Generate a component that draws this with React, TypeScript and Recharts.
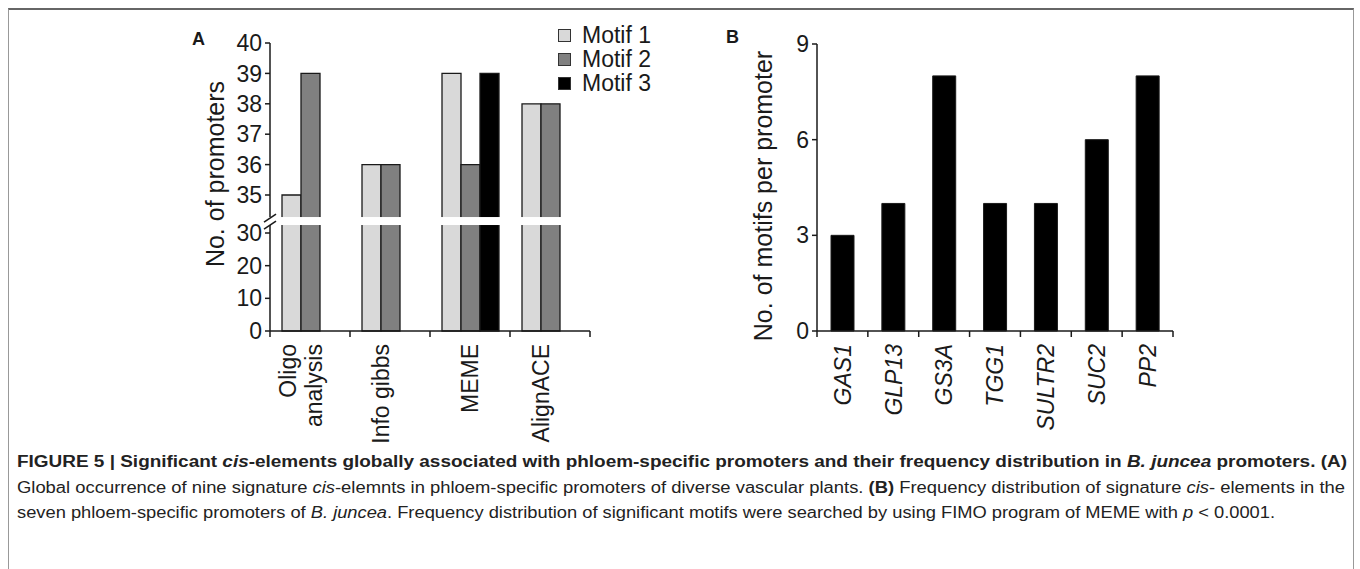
import React from 'react';
import { BarChart, Bar, XAxis, YAxis, ReferenceArea } from 'recharts';

const FONT = "'Liberation Sans', Arial, Helvetica, sans-serif";

// Panel A
const methods = ['Oligo\nanalysis', 'Info gibbs', 'MEME', 'AlignACE'];
const motif1 = [35, 36, 39, 38];
const motif2 = [39, 36, 36, 38];
const motif3: (number | null)[] = [null, null, 39, null];
const yTicksA = [0, 10, 20, 30, 35, 36, 37, 38, 39, 40];
const breakRange = [31.05, 32.1];

// Panel B
const promoters = ['GAS1', 'GLP13', 'GS3A', 'TGG1', 'SULTR2', 'SUC2', 'PP2'];
const motifsPerPromoter = [3, 4, 8, 4, 4, 6, 8];
const yTicksB = [0, 3, 6, 9];

const seriesA = [
  { key: 'm1', name: 'Motif 1', fill: '#d9d9d9' },
  { key: 'm2', name: 'Motif 2', fill: '#808080' },
  { key: 'm3', name: 'Motif 3', fill: '#000000' },
];

// broken axis: 0-30 squeezed, 30-35 mostly hidden by the break, 35-40 stretched
const brk = (v: number | null) => {
  if (v == null) return null;
  if (v <= 30) return (v * 98) / 30;
  if (v <= 35) return 98 + ((v - 30) * 38) / 5;
  return 136 + ((v - 35) * 152) / 5;
};

const dataA = methods.map((m, i) => ({
  name: m,
  m1: brk(motif1[i]),
  m2: brk(motif2[i]),
  m3: brk(motif3[i]),
}));

const dataB = promoters.map((p, i) => ({ name: p, value: motifsPerPromoter[i] }));

const PLOT_A_W = 320;
const PLOT_B_W = 356;
const BAR_A = 19;
const INK = '#1a1a1a';

const MethodTick = (props: any) => {
  const { x, y, payload } = props;
  const index = props.index ?? payload.index;
  const band = PLOT_A_W / methods.length;
  const cx = x - (motif3[index] == null ? BAR_A / 2 : 0);
  const lines = String(payload.value).split('\n');
  return (
    <g>
      <line x1={x - band / 2} y1={y} x2={x - band / 2} y2={y + 6} stroke={INK} strokeWidth={1.5} />
      {index === methods.length - 1 && (
        <line x1={x + band / 2} y1={y} x2={x + band / 2} y2={y + 6} stroke={INK} strokeWidth={1.5} />
      )}
      {lines.map((ln, k) => {
        const lx = cx + (k - (lines.length - 1) / 2) * 26;
        const ly = y + 13;
        return (
          <text
            key={k}
            x={lx}
            y={ly}
            dy="0.36em"
            transform={`rotate(-90 ${lx} ${ly})`}
            textAnchor="end"
            fontSize={23}
            fontFamily={FONT}
            fill={INK}
          >
            {ln}
          </text>
        );
      })}
    </g>
  );
};

const PromoterTick = (props: any) => {
  const { x, y, payload } = props;
  const index = props.index ?? payload.index;
  const band = PLOT_B_W / promoters.length;
  const ly = y + 13;
  return (
    <g>
      <line x1={x - band / 2} y1={y} x2={x - band / 2} y2={y + 6} stroke={INK} strokeWidth={1.5} />
      {index === promoters.length - 1 && (
        <line x1={x + band / 2} y1={y} x2={x + band / 2} y2={y + 6} stroke={INK} strokeWidth={1.5} />
      )}
      <text
        x={x}
        y={ly}
        dy="0.36em"
        transform={`rotate(-90 ${x} ${ly})`}
        textAnchor="end"
        fontSize={23}
        fontStyle="italic"
        fontFamily={FONT}
        fill={INK}
      >
        {payload.value}
      </text>
    </g>
  );
};

const BreakShape = (props: any) => {
  const { x, y, width, height } = props;
  return (
    <g>
      <rect x={x - 12} y={y} width={width + 12} height={height} fill="#ffffff" />
      <line x1={x - 6} y1={y + 5} x2={x + 6} y2={y - 3} stroke={INK} strokeWidth={1.5} />
      <line x1={x - 6} y1={y + height + 4} x2={x + 6} y2={y + height - 4} stroke={INK} strokeWidth={1.5} />
    </g>
  );
};

const yLabel = (text: string, x: number, y: number) => () => (
  <text
    x={x}
    y={y}
    dy="0.36em"
    transform={`rotate(-90 ${x} ${y})`}
    textAnchor="middle"
    fontSize={25}
    fontFamily={FONT}
    fill={INK}
  >
    {text}
  </text>
);

const tickStyle = { fontSize: 23, fontFamily: FONT, fill: INK };

const App = () => {
  return (
    <div style={{ position: 'absolute', left: 0, top: 0, width: 1360, height: 569, fontFamily: FONT }}>
      <div
        style={{
          position: 'absolute',
          left: 8,
          top: 8,
          width: 1346,
          height: 561,
          boxSizing: 'border-box',
          borderTop: '2px solid #666',
          borderLeft: '1px solid #999',
          borderRight: '1px solid #999',
        }}
      />

      <div style={{ position: 'absolute', left: 192, top: 29, fontSize: 18, fontWeight: 'bold', color: INK }}>A</div>
      <div style={{ position: 'absolute', left: 726, top: 27, fontSize: 18, fontWeight: 'bold', color: INK }}>B</div>

      <div style={{ position: 'absolute', left: 150, top: 0 }}>
        <BarChart
          width={460}
          height={450}
          data={dataA}
          margin={{ top: 43, right: 20, bottom: 19, left: 0 }}
          barGap={0}
          barSize={BAR_A}
        >
          <XAxis
            dataKey="name"
            type="category"
            height={100}
            interval={0}
            tickSize={0}
            tickMargin={0}
            tickLine={false}
            axisLine={{ stroke: INK, strokeWidth: 1.5 }}
            tick={(p: any) => <MethodTick {...p} />}
          />
          <YAxis
            type="number"
            width={120}
            domain={[0, brk(40) as number]}
            ticks={yTicksA.map((t) => brk(t) as number)}
            interval={0}
            tickSize={5}
            tickMargin={3}
            tickFormatter={(d: number) => String(yTicksA.find((t) => Math.abs((brk(t) as number) - d) < 0.01))}
            tick={tickStyle}
            axisLine={{ stroke: INK, strokeWidth: 1.5 }}
            tickLine={{ stroke: INK, strokeWidth: 1.5 }}
            label={yLabel('No. of promoters', 65, 174)}
          />
          {seriesA.map((s) => (
            <Bar
              key={s.key}
              dataKey={s.key}
              name={s.name}
              fill={s.fill}
              stroke={INK}
              strokeWidth={1.3}
              isAnimationActive={false}
            />
          ))}
          <ReferenceArea
            y1={brk(breakRange[0]) as number}
            y2={brk(breakRange[1]) as number}
            shape={(p: any) => <BreakShape {...p} />}
            ifOverflow="visible"
            zIndex={1500}
          />
        </BarChart>
      </div>

      <div style={{ position: 'absolute', left: 558, top: 23, color: INK }}>
        {seriesA.map((s) => (
          <div key={s.key} style={{ display: 'flex', alignItems: 'center', height: 24, fontSize: 23 }}>
            <span
              style={{
                display: 'inline-block',
                width: 11,
                height: 11,
                background: s.fill,
                border: '1px solid #333',
                marginRight: 11,
              }}
            />
            <span>{s.name}</span>
          </div>
        ))}
      </div>

      <div style={{ position: 'absolute', left: 700, top: 0 }}>
        <BarChart
          width={500}
          height={450}
          data={dataB}
          margin={{ top: 44, right: 27, bottom: 19, left: 0 }}
          barSize={23}
        >
          <XAxis
            dataKey="name"
            type="category"
            height={100}
            interval={0}
            tickSize={0}
            tickMargin={0}
            tickLine={false}
            axisLine={{ stroke: INK, strokeWidth: 1.5 }}
            tick={(p: any) => <PromoterTick {...p} />}
          />
          <YAxis
            type="number"
            width={117}
            domain={[0, 9]}
            ticks={yTicksB}
            interval={0}
            tickSize={5}
            tickMargin={3}
            tick={tickStyle}
            axisLine={{ stroke: INK, strokeWidth: 1.5 }}
            tickLine={{ stroke: INK, strokeWidth: 1.5 }}
            label={yLabel('No. of motifs per promoter', 63, 196)}
          />
          <Bar dataKey="value" fill="#000000" stroke={INK} strokeWidth={1} isAnimationActive={false} />
        </BarChart>
      </div>

      <svg
        width={1360}
        height={569}
        style={{ position: 'absolute', left: 0, top: 0, pointerEvents: 'none' }}
        fontFamily={FONT}
        fontSize={16}
        fill="#222"
      >
        <text x={17} y={467} textLength={1330} lengthAdjust="spacingAndGlyphs" fontWeight="bold">
          FIGURE 5 | Significant <tspan fontStyle="italic">cis</tspan>-elements globally associated with
          phloem-specific promoters and their frequency distribution in{' '}
          <tspan fontStyle="italic">B. juncea</tspan> promoters. (A)
        </text>
        <text x={17} y={493} textLength={1328} lengthAdjust="spacingAndGlyphs">
          Global occurrence of nine signature <tspan fontStyle="italic">cis</tspan>-elemnts in phloem-specific
          promoters of diverse vascular plants. <tspan fontWeight="bold">(B)</tspan> Frequency distribution of
          signature <tspan fontStyle="italic">cis</tspan>- elements in the
        </text>
        <text x={17} y={518} textLength={1258} lengthAdjust="spacingAndGlyphs">
          seven phloem-specific promoters of <tspan fontStyle="italic">B. juncea</tspan>. Frequency distribution
          of significant motifs were searched by using FIMO program of MEME with{' '}
          <tspan fontStyle="italic">p</tspan> &lt; 0.0001.
        </text>
      </svg>
    </div>
  );
};

export default App;
